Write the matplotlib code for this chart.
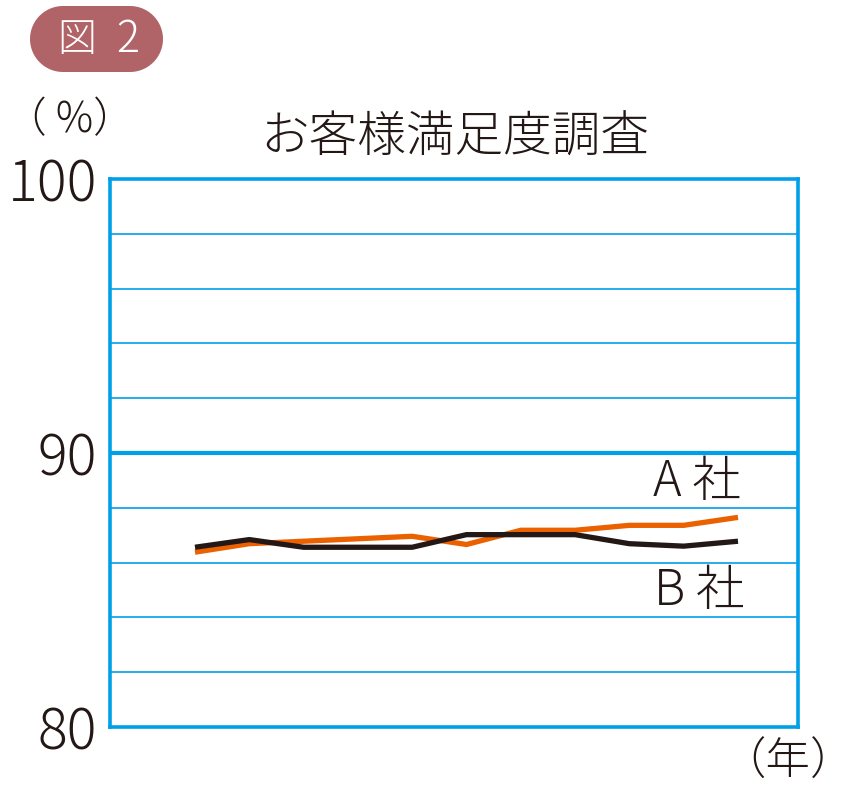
import matplotlib
matplotlib.use("Agg")
import matplotlib.pyplot as plt
import numpy as np
from matplotlib.patches import Polygon

plt.rcParams['font.family'] = ['Noto Sans CJK JP', 'DejaVu Sans']

years = list(range(11))
company_a = [86.38, 86.69, 86.78, 86.87, 86.96, 86.66, 87.18, 87.18, 87.36, 87.36, 87.65]
company_b = [86.56, 86.84, 86.56, 86.56, 86.56, 87.02, 87.02, 87.02, 86.69, 86.60, 86.78]
yticks = [80, 90, 100]
ytick_labels = ["80", "90", "100"]
title = "お客様満足度調査"

W, H = 856, 786
fig = plt.figure(figsize=(W / 100, H / 100), dpi=100)
ax = fig.add_axes([110 / W, (H - 727) / H, 688 / W, 548 / H])

blue = "#00A0E9"
ax.set_ylim(80, 100)
ax.set_xlim(-1.565, 11.105)
for v in range(82, 100, 2):
    ax.axhline(v, color=blue, lw=3.0 if v == 90 else 1.2, zorder=1)
for s in ax.spines.values():
    s.set_color(blue)
    s.set_linewidth(2.6)
ax.set_xticks([])
ax.set_yticks(yticks)
ax.set_yticklabels(ytick_labels)
ax.tick_params(axis='y', length=0, pad=9, labelsize=40, labelcolor="#231815")
for lab in ax.get_yticklabels():
    lab.set_fontweight('light')

ax.plot(years, company_a, color="#EB6100", lw=3.8, solid_capstyle='butt', zorder=3)
ax.plot(years, company_b, color="#231815", lw=3.8, solid_capstyle='butt', zorder=4)

txtc = "#231815"
fig.text(455 / W, 1 - 138 / H, title, ha='center', va='center', fontsize=35, color=txtc, fontweight='light')
fig.text(70 / W, 1 - 120 / H, "（ %）", ha='center', va='center', fontsize=30, color=txtc, fontweight='light')
fig.text(697 / W, 1 - 482 / H, "A 社", ha='center', va='center', fontsize=35, color=txtc, fontweight='light')
fig.text(699 / W, 1 - 591 / H, "B 社", ha='center', va='center', fontsize=35, color=txtc, fontweight='light')
fig.text(788 / W, 1 - 762 / H, "（年）", ha='center', va='center', fontsize=32, color=txtc, fontweight='light')

# pill-shaped badge (pixel coordinates)
x0, x1, yc, r = 30 + 33, 163 - 33, H - 39, 33
t1 = np.linspace(np.pi / 2, 3 * np.pi / 2, 40)
t2 = np.linspace(-np.pi / 2, np.pi / 2, 40)
pts = np.concatenate([
    np.column_stack([x0 + r * np.cos(t1), yc + r * np.sin(t1)]),
    np.column_stack([x1 + r * np.cos(t2), yc + r * np.sin(t2)]),
])
pts[:, 0] /= W
pts[:, 1] /= H
badge = Polygon(pts, closed=True, transform=fig.transFigure,
                facecolor="#B06468", edgecolor='none')
fig.patches.append(badge)
fig.text(77 / W, 1 - 40 / H, "図", ha='center', va='center', fontsize=28, color='white', fontweight='light')
fig.text(128 / W, 1 - 40 / H, "2", ha='center', va='center', fontsize=31, color='white', fontweight='light')

fig.savefig("out.png", dpi=100)
